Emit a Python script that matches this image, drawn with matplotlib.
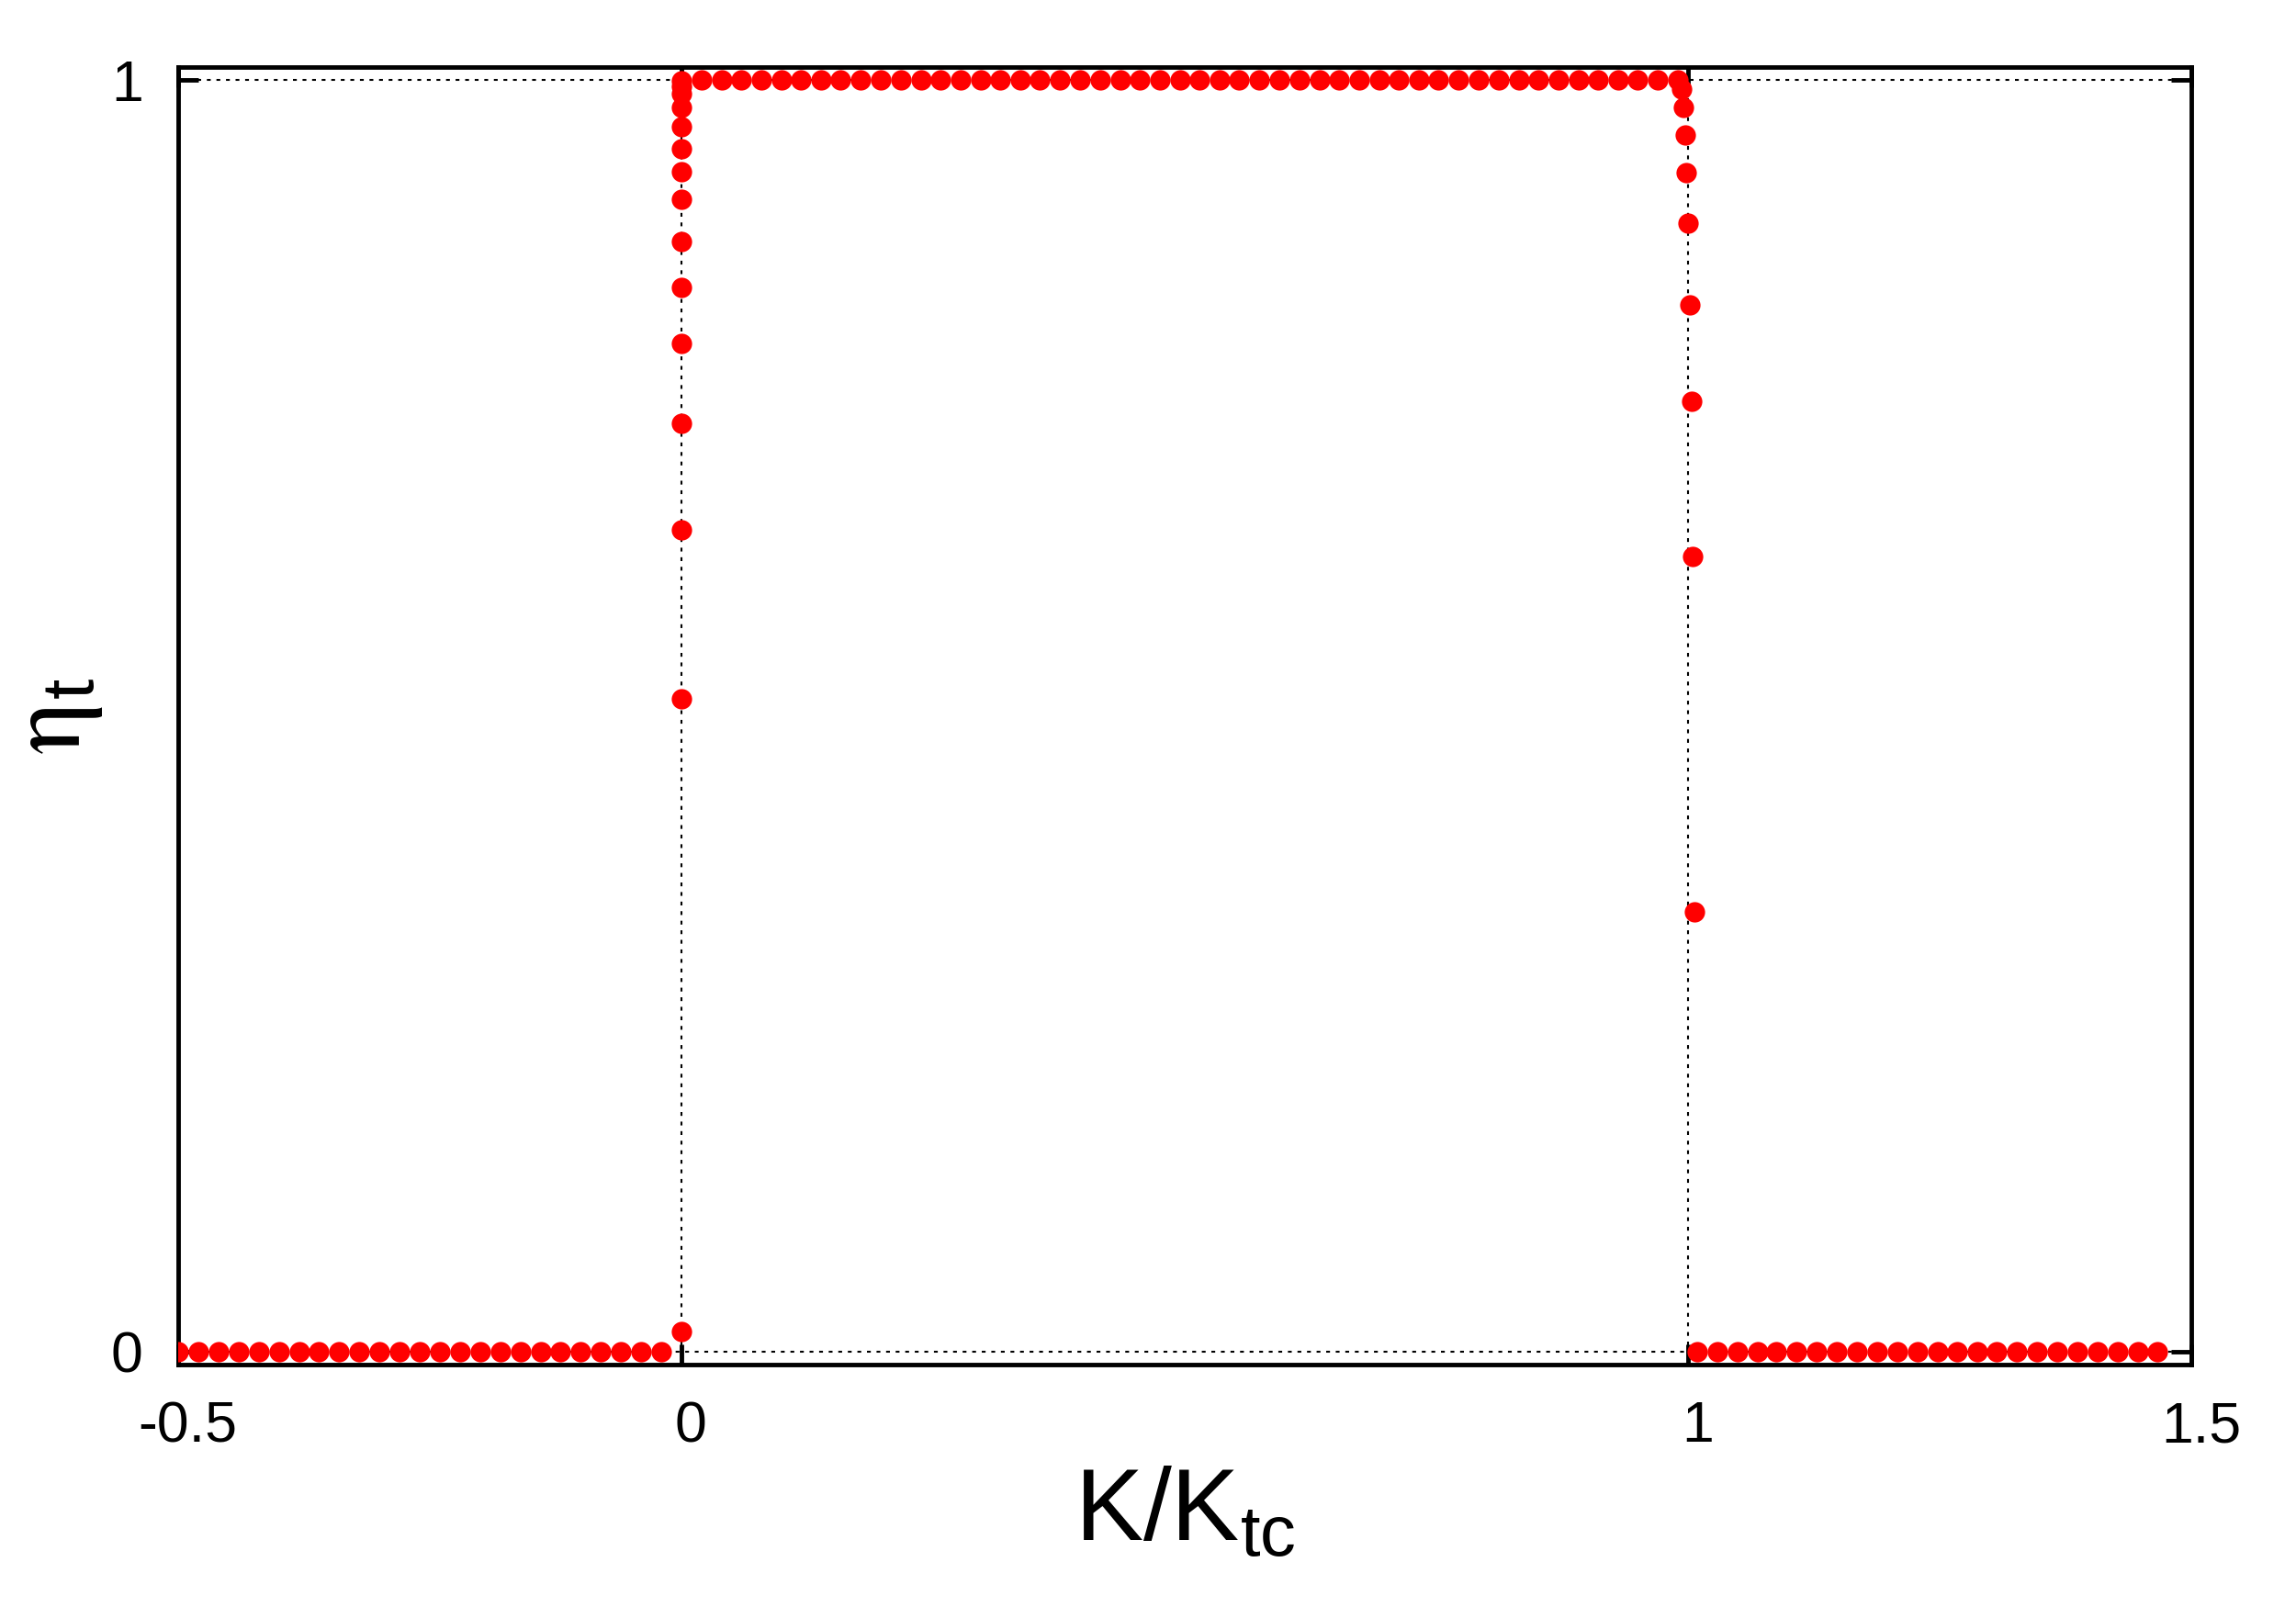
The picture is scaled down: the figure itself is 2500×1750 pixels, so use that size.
import matplotlib.pyplot as plt
import matplotlib.transforms as mtransforms

# eta_t vs K/K_tc
# left plateau (eta = 0)
x_low_left = [-0.500, -0.480, -0.460, -0.440, -0.420, -0.400, -0.380, -0.360,
              -0.340, -0.320, -0.300, -0.280, -0.260, -0.240, -0.220, -0.200,
              -0.180, -0.160, -0.140, -0.120, -0.100, -0.080, -0.060, -0.040,
              -0.020]
eta_low_left = [0.0] * len(x_low_left)

# steep rise at K/K_tc = 0
x_rise = [0.0, 0.0, 0.0, 0.0, 0.0, 0.0, 0.0, 0.0, 0.0, 0.0, 0.0, 0.0, 0.0,
          0.0, 0.0]
eta_rise = [0.016, 0.513, 0.646, 0.730, 0.793, 0.837, 0.873, 0.906, 0.928,
            0.946, 0.963, 0.978, 0.989, 0.995, 0.999]

# upper plateau (eta = 1)
x_high = [0.020, 0.040, 0.059, 0.079, 0.099, 0.119, 0.139, 0.158, 0.178,
          0.198, 0.218, 0.238, 0.257, 0.277, 0.297, 0.317, 0.337, 0.356,
          0.376, 0.396, 0.416, 0.436, 0.455, 0.475, 0.495, 0.515, 0.535,
          0.554, 0.574, 0.594, 0.614, 0.634, 0.653, 0.673, 0.693, 0.713,
          0.733, 0.752, 0.772, 0.792, 0.812, 0.832, 0.851, 0.871, 0.891,
          0.911, 0.931, 0.950, 0.970, 0.990]
eta_high = [1.0] * len(x_high)

# drop near K/K_tc = 1
x_drop = [0.9936, 0.9951, 0.9969, 0.9984, 1.0000, 1.0018, 1.0033, 1.0048,
          1.0067]
eta_drop = [0.993, 0.978, 0.957, 0.927, 0.887, 0.823, 0.747, 0.625, 0.346]

# right plateau (eta = 0)
x_low_right = [1.009, 1.029, 1.049, 1.069, 1.088, 1.108, 1.128, 1.148,
               1.168, 1.188, 1.208, 1.228, 1.248, 1.267, 1.287, 1.307,
               1.327, 1.347, 1.367, 1.387, 1.407, 1.427, 1.447, 1.466]
eta_low_right = [0.0] * len(x_low_right)

x_ticks = [-0.5, 0, 1, 1.5]
x_tick_labels = ['-0.5', '0', '1', '1.5']
y_ticks = [0, 1]
y_tick_labels = ['0', '1']

plt.rcParams['font.family'] = ['Liberation Sans', 'DejaVu Sans']
plt.rcParams['mathtext.fontset'] = 'stix'

fig = plt.figure(figsize=(10, 7), dpi=250)
ax = fig.add_axes([0.0776, 0.1509, 0.8768, 0.8074])

xs = x_low_left + x_rise + x_high + x_drop + x_low_right
ys = eta_low_left + eta_rise + eta_high + eta_drop + eta_low_right
ax.plot(xs, ys, 'o', color='#ff0000', markersize=6.4, markeredgewidth=0,
        zorder=3)

ax.set_xlim(-0.5, 1.5)
ax.set_ylim(-0.0101, 1.0101)
ax.set_xticks(x_ticks)
ax.set_xticklabels(x_tick_labels)
ax.set_yticks(y_ticks)
ax.set_yticklabels(y_tick_labels)

ax.tick_params(direction='in', length=6.4, width=1.4, labelsize=18,
               top=True, right=True, pad=11)
for s in ax.spines.values():
    s.set_linewidth(1.4)

# gnuplot puts the x tick labels a touch right of the tick
shift = mtransforms.ScaledTranslation(3 / 72, 0, fig.dpi_scale_trans)
for lab in ax.get_xticklabels():
    lab.set_transform(lab.get_transform() + shift)

ax.grid(True, color='black', linewidth=0.6, linestyle=(0, (2, 3)))

ax.set_xlabel(r'$\mathregular{K/K_{tc}}$', fontsize=32, labelpad=4)
ax.set_ylabel(r'$\mathrm{\eta}_{\mathregular{t}}$', fontsize=33, labelpad=2)

fig.savefig('out.png', dpi=250)
